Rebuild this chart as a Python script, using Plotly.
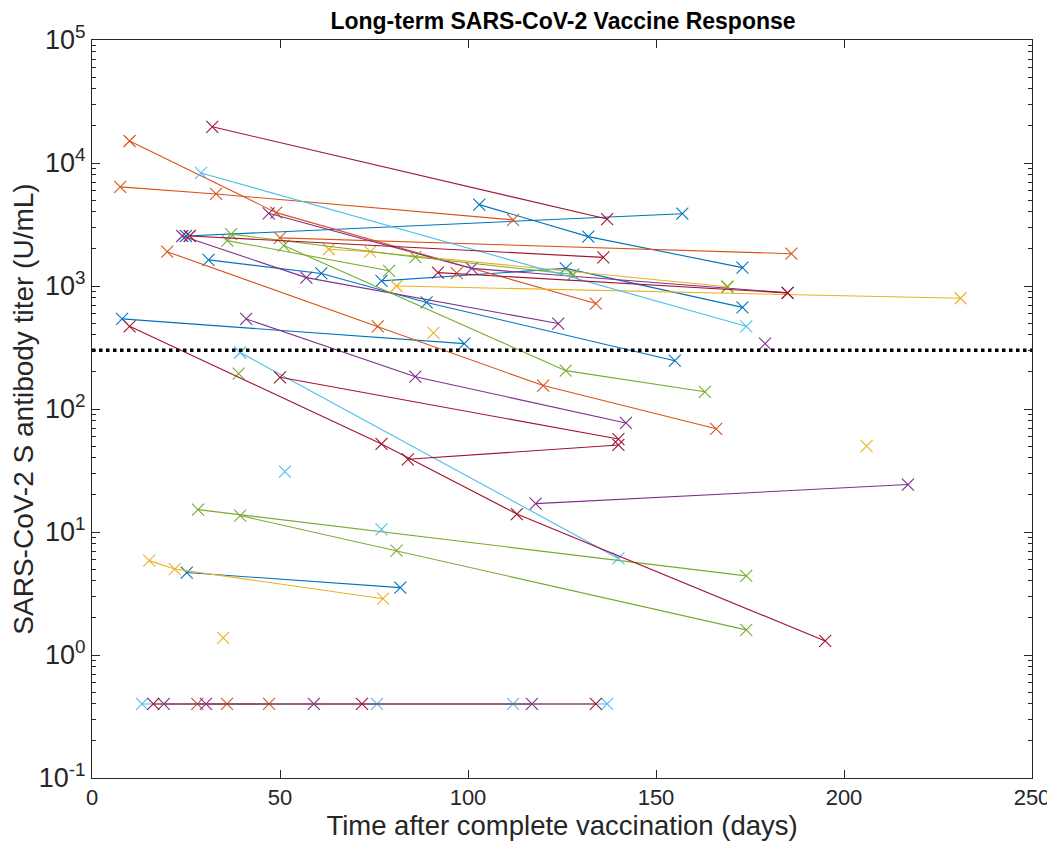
import plotly.graph_objects as go

# MATLAB default colour order
BLUE = "#0072BD"; ORANGE = "#D95319"; YELLOW = "#EDB120"; PURPLE = "#7E2F8E"
GREEN = "#77AC30"; LIGHTBLUE = "#4DBEEE"; DARKRED = "#A2142F"

THRESHOLD = 300

# each subject: days after complete vaccination, titer (U/mL)
darkred_days = [[32, 137], [26, 136], [92, 185], [10, 77, 113, 195], [50, 140], [84, 140], [16.3, 71.8, 134]]
darkred_titer = [[19700, 3500], [2550, 1710], [1285, 880], [470, 52, 14, 1.3], [181, 57], [39, 51], [0.4, 0.4, 0.4]]

orange_days = [[10, 49, 134], [7.5, 33, 112], [50, 186], [20, 76, 120, 166], [97], [28, 35.9, 47.1]]
orange_titer = [[15100, 3950, 720], [6400, 5600, 3450], [2460, 1830], [1900, 470, 155, 69], [1270], [0.4, 0.4, 0.4]]

yellow_days = [[81, 231], [63, 74, 169], [15.2, 22, 77.4], [34.9], [90.8], [206]]
yellow_titer = [[1000, 795], [1990, 1900, 986], [5.85, 5.0, 2.87], [1.38], [415], [50]]

purple_days = [[24, 57, 124], [47, 101, 185], [41, 86, 142], [118, 217], [179], [19.1, 59, 117], [30.3]]
purple_titer = [[2550, 1170, 495], [3900, 1390, 880], [540, 183, 77], [17, 24.3], [340], [0.4, 0.4, 0.4], [0.4]]

green_days = [[37, 86, 128], [51, 126, 163], [36, 79], [39], [28.2, 174], [39.4, 81, 174], [169]]
green_titer = [[2640, 1720, 1240], [2130, 205, 138], [2340, 1330], [194], [15.2, 4.4], [13.6, 7.05, 1.6], [986]]

blue_days = [[25, 157], [103, 132, 173], [31, 61, 89, 155], [77, 126, 173], [8, 99], [25.2, 82]]
blue_titer = [[2550, 3870], [4590, 2520, 1410], [1630, 1265, 735, 247], [1100, 1390, 670], [540, 340], [4.68, 3.53]]

lightblue_days = [[29, 174], [39.4, 140], [51.3], [77], [13.3, 75.8, 112, 137]]
lightblue_titer = [[8300, 470], [288, 6.1], [31], [10.5], [0.4, 0.4, 0.4, 0.4]]

X_TICKS = [0, 50, 100, 150, 200, 250]
Y_TICKS = [0.1, 1, 10, 100, 1000, 10000, 100000]
Y_TICK_TEXT = ["10<sup>-1</sup>", "10<sup>0</sup>", "10<sup>1</sup>", "10<sup>2</sup>",
               "10<sup>3</sup>", "10<sup>4</sup>", "10<sup>5</sup>"]

groups = [
    (BLUE, blue_days, blue_titer),
    (ORANGE, orange_days, orange_titer),
    (YELLOW, yellow_days, yellow_titer),
    (PURPLE, purple_days, purple_titer),
    (GREEN, green_days, green_titer),
    (LIGHTBLUE, lightblue_days, lightblue_titer),
    (DARKRED, darkred_days, darkred_titer),
]

fig = go.Figure()
for color, days_list, titer_list in groups:
    for d, t in zip(days_list, titer_list):
        fig.add_trace(go.Scatter(
            x=d, y=t, mode="lines+markers",
            line=dict(color=color, width=1.1),
            marker=dict(symbol="x-thin", size=12, line=dict(color=color, width=1.1)),
            showlegend=False, hoverinfo="x+y",
        ))

fig.add_trace(go.Scatter(
    x=[X_TICKS[0], X_TICKS[-1]], y=[THRESHOLD, THRESHOLD], mode="lines",
    line=dict(color="black", width=3.5, dash="dot"), showlegend=False, hoverinfo="skip",
))

FONT = "Liberation Sans, Arial, Helvetica, sans-serif"
axis_common = dict(
    showline=True, linecolor="#262626", linewidth=1, mirror="allticks",
    ticks="inside", ticklen=8, tickcolor="#262626", showgrid=False, zeroline=False,
    automargin=False,
)

# the page body has an 8px margin, so the figure is sized to fit inside the 1055x850 window
fig.update_layout(
    width=1047, height=842,
    margin=dict(l=84, r=23, t=32, b=72, autoexpand=False),
    paper_bgcolor="white", plot_bgcolor="white",
    title=dict(text="<b>Long-term SARS-CoV-2 Vaccine Response</b>", x=(563 - 8) / 1047, xanchor="center",
               y=1 - 13 / 842, yanchor="middle", yref="container", automargin=False,
               font=dict(family=FONT, size=23, color="black")),
    xaxis=dict(range=[0, 250], tickvals=X_TICKS,
               tickfont=dict(family=FONT, size=22, color="#262626"),
               title=dict(text="Time after complete vaccination (days)",
                          font=dict(family=FONT, size=27.5, color="#262626"), standoff=2),
               **axis_common),
    yaxis=dict(type="log", range=[-1, 5], tickvals=Y_TICKS, ticktext=Y_TICK_TEXT,
               tickfont=dict(family=FONT, size=27, color="#262626"),
               minor=dict(ticks="inside", ticklen=4, tickcolor="#262626", dtick="D1", showgrid=False),
               title=dict(text="SARS-CoV-2 S antibody titer (U/mL)",
                          font=dict(family=FONT, size=28, color="#262626"), standoff=2),
               **axis_common),
)

fig.write_html("out.html")
